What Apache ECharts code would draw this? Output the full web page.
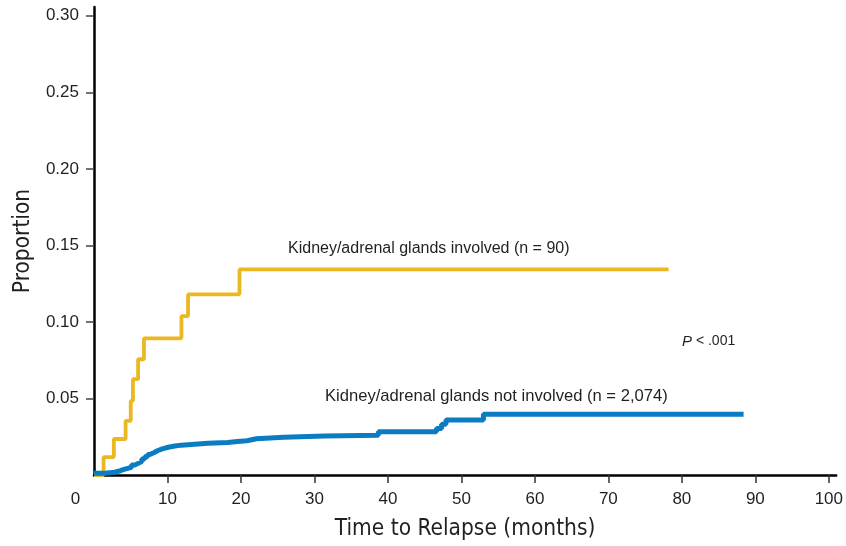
<!DOCTYPE html>
<html>
<head>
<meta charset="utf-8">
<script src="https://cdn.jsdelivr.net/npm/echarts@6/dist/echarts.min.js"></script>
<style>
html,body{margin:0;padding:0;background:#fff;}
#chart{width:846px;height:546px;}
</style>
</head>
<body>
<div id="chart"></div>
<script>
// Cumulative proportion of relapse, Kaplan-Meier style step data [months, proportion]
const involvedLabel = 'Kidney/adrenal glands involved (n = 90)';
const notInvolvedLabel = 'Kidney/adrenal glands not involved (n = 2,074)';
const involvedData = [
  [0, 0], [1.3, 0.0117], [2.7, 0.0235], [4.3, 0.0354], [5.0, 0.0484], [5.3, 0.0626],
  [6.0, 0.0756], [6.8, 0.0893], [11.9, 0.1038], [12.8, 0.118], [19.8, 0.1343], [78.2, 0.1343]
];
const notInvolvedData = [
  [0, 0.0012], [1.5, 0.0018], [2.8, 0.0028], [3.6, 0.0038], [4.2, 0.005], [5.1, 0.0066],
  [5.6, 0.0076], [6.0, 0.0088], [6.5, 0.0105], [6.9, 0.012], [7.3, 0.0134], [7.6, 0.0147],
  [8.2, 0.016], [8.7, 0.0171], [9.3, 0.0181], [10.1, 0.0189], [11.0, 0.0195], [11.9, 0.0201],
  [13.7, 0.0207], [15.5, 0.0213], [18.2, 0.0219], [19.5, 0.0224], [20.8, 0.0237], [22.1, 0.0246],
  [25.8, 0.0254], [31.4, 0.026], [38.7, 0.0283], [46.6, 0.0304], [47.3, 0.0332], [47.9, 0.036],
  [53.0, 0.0397], [88.4, 0.0397]
];
const xTickValues = [10, 20, 30, 40, 50, 60, 70, 80, 90, 100];
const xLabelValues = [0, 10, 20, 30, 40, 50, 60, 70, 80, 90, 100];
const yTickValues = [0.05, 0.10, 0.15, 0.20, 0.25, 0.30];
const xAxisTitle = 'Time to Relapse (months)';
const yAxisTitle = 'Proportion';
const pValueText = '< .001';

const titleFont = '"Liberation Sans Narrow", "DejaVu Sans Condensed", "Liberation Sans", sans-serif';
const bodyFont = '"Liberation Sans", Arial, sans-serif';
const textColor = '#231f20';

const chart = echarts.init(document.getElementById('chart'), null, {renderer: 'canvas'});
chart.setOption({
  animation: false,
  backgroundColor: '#ffffff',
  grid: {left: 94, right: 9, top: 7, bottom: 70},
  xAxis: {
    type: 'value', min: 0, max: 101,
    name: xAxisTitle, nameLocation: 'middle', nameGap: 43,
    nameTextStyle: {fontFamily: titleFont, fontSize: 22.5, color: textColor},
    axisLine: {show: true, lineStyle: {color: '#000', width: 2.5}},
    axisTick: {show: true, length: 8, customValues: xTickValues, lineStyle: {color: '#333', width: 1.5}},
    axisLabel: {
      customValues: xLabelValues, margin: 16, fontFamily: bodyFont, fontSize: 17, color: textColor,
      formatter: v => v === 0 ? '{z|0}' : String(v),
      rich: {z: {fontFamily: bodyFont, fontSize: 17, color: textColor, padding: [0, 37, 0, 0]}}
    },
    splitLine: {show: false}
  },
  yAxis: {
    type: 'value', min: 0, max: 0.3057,
    name: yAxisTitle, nameLocation: 'middle', nameGap: 56, nameRotate: 90,
    nameTextStyle: {fontFamily: titleFont, fontSize: 22.5, color: textColor},
    axisLine: {show: true, lineStyle: {color: '#000', width: 2.5}},
    axisTick: {show: true, length: 8, customValues: yTickValues, lineStyle: {color: '#444', width: 1.5}},
    axisLabel: {
      customValues: yTickValues, margin: 15, fontFamily: bodyFont, fontSize: 17, color: textColor,
      formatter: v => v.toFixed(2)
    },
    splitLine: {show: false}
  },
  series: [
    {
      name: involvedLabel, type: 'line', step: 'end', data: involvedData,
      showSymbol: false, symbol: 'none',
      lineStyle: {color: '#EBB823', width: 3.8}, z: 2
    },
    {
      name: notInvolvedLabel, type: 'line', step: 'end', data: notInvolvedData,
      showSymbol: false, symbol: 'none',
      lineStyle: {color: '#0A7CC1', width: 5}, z: 3
    }
  ],
  graphic: [
    {type: 'text', left: 288, top: 241,
     style: {text: involvedLabel, font: '16px ' + bodyFont, fill: textColor}},
    {type: 'text', left: 325, top: 388,
     style: {text: notInvolvedLabel, font: '16.6px ' + bodyFont, fill: textColor}},
    {type: 'text', left: 682, top: 334,
     style: {text: '{p|P} ' + pValueText, font: '14px ' + bodyFont, fill: textColor,
       rich: {p: {fontStyle: 'italic', fontFamily: bodyFont, fontSize: 15, fill: textColor}}}}
  ]
});
</script>
</body>
</html>
